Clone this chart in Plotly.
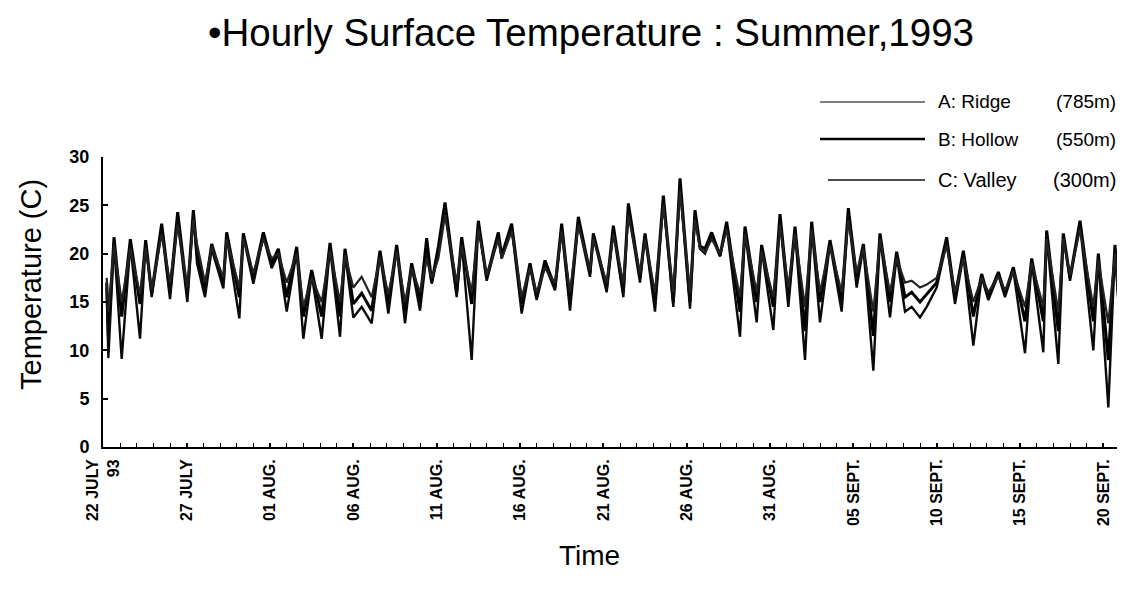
import pandas as pd
import plotly.graph_objects as go

# ---------------- data ----------------
start = pd.Timestamp("1993-07-22")

# time of each turning point, in days since 22 July 1993 00:00
t_days = [0.20, 0.30, 0.64, 1.10, 1.62, 2.20, 2.54, 2.90, 3.50, 4.00,
          4.46, 5.04, 5.40, 5.62, 6.10, 6.50, 7.20, 7.40, 8.16, 8.40,
          9.00, 9.60, 10.10, 10.50, 11.00, 11.60, 12.00, 12.50, 13.10, 13.60,
          14.20, 14.50, 15.00, 15.50, 16.10, 16.60, 17.10, 17.60, 18.10, 18.50,
          19.00, 19.40, 19.70, 20.10, 20.50, 21.20, 21.50, 22.10, 22.50, 23.00,
          23.70, 23.90, 24.50, 25.10, 25.60, 26.00, 26.50, 27.10, 27.50, 28.00,
          28.50, 29.20, 29.40, 30.20, 30.60, 31.20, 31.50, 32.20, 32.50, 33.10,
          33.60, 34.20, 34.60, 35.20, 35.50, 35.80, 36.10, 36.50, 37.00, 37.40,
          38.20, 38.50, 39.20, 39.50, 40.20, 40.60, 41.10, 41.50, 42.10, 42.50,
          43.00, 43.60, 44.30, 44.70, 45.20, 45.60, 46.20, 46.60, 47.20, 47.60,
          48.10, 48.50, 49.00, 49.40, 50.00, 50.60, 51.10, 51.60, 52.20, 52.70,
          53.10, 53.70, 54.10, 54.60, 55.30, 55.70, 56.40, 56.60, 57.30, 57.60,
          58.00, 58.60, 59.40, 59.70, 60.30, 60.70, 61.10]

ridge = [17.5, 14.0, 20.8, 15.0, 20.5, 15.8, 20.6, 16.3, 22.0, 17.0,
         23.0, 16.5, 23.5, 21.0, 17.0, 20.7, 17.5, 21.5, 16.5, 21.5,
         18.0, 21.5, 19.5, 20.0, 17.0, 20.0, 14.5, 17.5, 15.0, 20.3,
         15.0, 19.8, 16.5, 17.6, 15.5, 19.6, 15.8, 20.2, 15.0, 18.5,
         16.0, 19.5, 17.5, 19.5, 24.0, 17.0, 20.8, 16.0, 22.5, 17.8,
         21.5, 19.5, 22.3, 15.5, 18.5, 16.0, 18.5, 17.0, 22.3, 16.0,
         23.0, 18.3, 21.5, 17.0, 22.0, 17.0, 24.0, 18.0, 21.5, 16.0,
         25.0, 16.0, 26.5, 16.0, 23.5, 20.5, 20.2, 21.5, 20.0, 22.5,
         15.5, 22.0, 16.0, 20.2, 15.5, 23.0, 16.5, 22.0, 14.5, 22.5,
         16.0, 20.8, 16.0, 23.5, 18.0, 20.5, 14.0, 21.5, 16.0, 19.5,
         17.0, 17.2, 16.5, 16.8, 17.5, 20.8, 16.0, 19.5, 15.0, 17.5,
         16.0, 17.7, 16.2, 18.2, 14.5, 19.0, 14.5, 21.5, 14.0, 21.5,
         17.8, 22.5, 14.5, 19.3, 12.8, 20.0, 12.0]

hollow = [17.0, 11.5, 21.7, 13.5, 21.5, 14.8, 21.4, 15.9, 23.1, 16.0,
          24.3, 15.8, 24.5, 20.0, 16.2, 21.0, 17.0, 22.2, 15.5, 22.1,
          17.5, 22.2, 19.0, 20.5, 15.5, 20.7, 13.5, 18.3, 13.5, 21.1,
          13.5, 20.5, 14.8, 15.9, 14.1, 20.3, 14.8, 20.9, 14.0, 19.0,
          15.0, 21.6, 17.0, 20.7, 25.3, 16.0, 21.7, 14.8, 23.4, 17.5,
          22.2, 19.8, 23.1, 14.8, 19.0, 15.5, 19.3, 16.5, 23.1, 15.0,
          23.8, 18.0, 22.1, 16.5, 22.9, 16.0, 25.2, 17.5, 22.1, 15.0,
          26.0, 15.0, 27.8, 15.0, 24.5, 20.8, 20.5, 22.2, 19.8, 23.3,
          14.0, 22.8, 15.0, 20.9, 14.5, 24.1, 15.5, 22.8, 12.0, 23.3,
          15.0, 21.4, 15.0, 24.7, 17.5, 21.0, 11.5, 22.1, 15.0, 20.2,
          15.5, 16.0, 15.0, 15.8, 17.0, 21.7, 15.5, 20.3, 13.5, 17.9,
          15.5, 18.1, 15.8, 18.6, 13.0, 19.5, 13.0, 22.4, 12.0, 22.1,
          17.5, 23.4, 13.0, 20.0, 9.0, 20.9, 10.5]

valley = [16.5, 9.2, 21.2, 9.1, 21.0, 11.2, 21.0, 15.5, 22.5, 15.3,
          23.5, 15.0, 24.0, 19.0, 15.5, 20.5, 16.4, 21.8, 13.3, 21.8,
          16.9, 21.8, 18.5, 20.0, 14.0, 20.2, 11.2, 17.8, 11.2, 20.6,
          11.4, 20.0, 13.4, 14.5, 12.8, 19.9, 13.8, 20.5, 12.8, 18.7,
          14.1, 20.0, 16.9, 20.0, 24.5, 15.5, 21.2, 9.0, 23.0, 17.2,
          21.8, 19.5, 22.7, 13.8, 18.7, 15.2, 18.8, 16.2, 22.5, 14.1,
          23.2, 17.6, 21.8, 16.0, 22.3, 15.5, 24.5, 17.0, 21.8, 14.0,
          25.4, 14.5, 27.0, 14.3, 24.0, 20.5, 20.0, 21.8, 19.7, 22.8,
          11.4, 22.3, 12.9, 20.5, 12.1, 23.5, 14.5, 22.3, 9.0, 22.8,
          12.9, 21.0, 14.0, 24.0, 16.5, 20.7, 7.9, 21.8, 13.4, 19.8,
          14.0, 14.5, 13.4, 14.5, 16.5, 21.2, 14.8, 19.8, 10.5, 17.6,
          15.2, 17.8, 15.5, 18.3, 9.7, 19.2, 9.8, 22.0, 8.6, 21.8,
          17.2, 23.0, 10.0, 19.6, 4.1, 20.5, 9.7]

series_names = ["A: Ridge", "B: Hollow", "C: Valley"]
elevations = ["(785m)", "(550m)", "(300m)"]

tick_days = [0, 5, 10, 15, 20, 25, 30, 35, 40, 45, 50, 55, 60]
tick_labels = ["22 JULY<br>93", "27 JULY", "01 AUG.", "06 AUG.", "11 AUG.",
               "16 AUG.", "21 AUG.", "26 AUG.", "31 AUG.", "05 SEPT.",
               "10 SEPT.", "15 SEPT.", "20 SEPT."]
y_ticks = [0, 5, 10, 15, 20, 25, 30]

# ---------------- figure ----------------
x = [start + pd.Timedelta(days=d) for d in t_days]
FONT = "Liberation Sans, Arial, Helvetica, sans-serif"

styles = {
    "A: Ridge": dict(color="#222222", width=2.2),
    "B: Hollow": dict(color="#000000", width=3.0),
    "C: Valley": dict(color="#0a0a0a", width=2.4),
}
legend_line = {
    "A: Ridge": dict(color="#555555", width=1.3),
    "B: Hollow": dict(color="#000000", width=2.4),
    "C: Valley": dict(color="#111111", width=1.4),
}

fig = go.Figure()
for name, vals in [("B: Hollow", hollow), ("C: Valley", valley), ("A: Ridge", ridge)]:
    fig.add_trace(go.Scatter(x=x, y=vals, mode="lines", name=name,
                             line=styles[name], showlegend=False, cliponaxis=True))

# the page body has an 8 px margin, so the figure is drawn 8 px in from the corner
OFF = 8
W, H = 1125 - OFF, 593 - OFF
L, R, T, B = 103 - OFF, 3, 157 - OFF, 146
pw, ph = W - L - R, H - T - B

def px_x(p):  # page pixel -> paper x
    return (p - OFF - L) / pw

def px_y(p):  # page pixel -> paper y
    return (H - B - (p - OFF)) / ph

fig.update_layout(
    width=W, height=H,
    margin=dict(l=L, r=R, t=T, b=B, autoexpand=False),
    plot_bgcolor="white", paper_bgcolor="white",
    font=dict(family=FONT, color="black"),
    title=dict(text="•Hourly Surface Temperature : Summer,1993",
               x=(591 - OFF) / W, xanchor="center", y=1 - (33 - OFF) / H,
               yanchor="middle", xref="container", yref="container",
               font=dict(size=38.5, family=FONT, color="black")),
    xaxis=dict(
        type="date",
        range=[start - pd.Timedelta(hours=0.5), start + pd.Timedelta(days=61.12)],
        tickvals=[start + pd.Timedelta(days=d) for d in tick_days],
        ticktext=tick_labels,
        tickangle=-90,
        ticks="inside", ticklen=4, tickwidth=1.5, tickcolor="black",
        minor=dict(ticks="inside", ticklen=4, tickwidth=1.2, tickcolor="black",
                   dtick=86400000, tick0="1993-07-22", showgrid=False),
        showline=True, linecolor="black", linewidth=2,
        showgrid=False, zeroline=False,
        ticklabelstandoff=4,
        tickfont=dict(family=FONT, size=16, color="black", weight="bold"),
    ),
    yaxis=dict(
        range=[0, 30],
        tickvals=y_ticks,
        ticks="inside", ticklen=5, tickwidth=1.5, tickcolor="black",
        showline=True, linecolor="black", linewidth=2,
        showgrid=False, zeroline=False,
        ticklabelstandoff=8,
        tickfont=dict(family=FONT, size=18, color="black", weight="bold"),
    ),
)

annotations = [
    dict(text="Temperature (C)", x=px_x(31), y=px_y(285), xref="paper", yref="paper",
         textangle=-90, showarrow=False, xanchor="center", yanchor="middle",
         font=dict(size=29, family=FONT, color="black")),
    dict(text="Time", x=px_x(589), y=px_y(555), xref="paper", yref="paper",
         showarrow=False, xanchor="center", yanchor="middle",
         font=dict(size=28, family=FONT, color="black")),
]

legend_y = [102, 139, 180]
legend_x0 = [820, 820, 828]
legend_font = [19, 19, 20]
shapes = []
for i, name in enumerate(series_names):
    yy = px_y(legend_y[i])
    shapes.append(dict(type="line", xref="paper", yref="paper",
                       x0=px_x(legend_x0[i]), x1=px_x(925), y0=yy, y1=yy,
                       line=legend_line[name]))
    annotations.append(dict(text=name, x=px_x(936), y=yy, xref="paper", yref="paper",
                            showarrow=False, xanchor="left", yanchor="middle",
                            font=dict(size=legend_font[i], family=FONT, color="black")))
    annotations.append(dict(text=elevations[i], x=px_x(1118), y=yy, xref="paper",
                            yref="paper", showarrow=False, xanchor="right",
                            yanchor="middle",
                            font=dict(size=legend_font[i], family=FONT, color="black")))

fig.update_layout(annotations=annotations, shapes=shapes)
fig.write_html("out.html")
